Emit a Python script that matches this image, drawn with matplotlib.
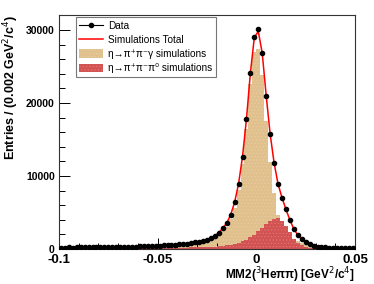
import matplotlib
matplotlib.use('Agg')
import matplotlib.pyplot as plt
import numpy as np
from matplotlib.patches import Patch
from matplotlib.lines import Line2D

plt.rcParams['font.family'] = ['Liberation Sans', 'DejaVu Sans']
plt.rcParams['hatch.linewidth'] = 0.4

# Histogram binning: 75 bins of 0.002 from -0.1 to 0.05
bin_lo = -0.1
bin_hi = 0.05
n_bins = 75

# Data (entries per bin)
data_counts = [
    200, 200, 210, 205, 220, 215, 230, 225, 240, 235,
    250, 260, 255, 270, 280, 290, 300, 310, 320, 335,
    350, 365, 380, 400, 420, 450, 480, 510, 550, 600,
    640, 690, 750, 820, 900, 1000, 1120, 1280, 1500, 1800,
    2250, 2850, 3550, 4700, 6400, 8950, 12650, 17800, 24150, 29000,
    30100, 26800, 21000, 15750, 11800, 8900, 7030, 5440, 3970, 2740,
    1920, 1330, 960, 650, 460, 340, 260, 210, 180, 160,
    140, 130, 120, 110, 100,
]

# eta -> pi+ pi- gamma simulation
gamma_counts = [
    160, 160, 165, 160, 170, 165, 175, 170, 180, 175,
    185, 195, 190, 200, 205, 210, 215, 225, 230, 240,
    250, 260, 270, 285, 300, 320, 345, 365, 395, 430,
    465, 505, 550, 600, 675, 760, 860, 1000, 1190, 1460,
    1870, 2420, 3050, 4100, 5680, 8080, 11600, 16500, 22550, 27050,
    27400, 23900, 17550, 11850, 7650, 4700, 3180, 2240, 1670, 1340,
    1070, 830, 660, 450, 320, 235, 175, 140, 120, 105,
    92, 85, 80, 75, 70,
]

# eta -> pi+ pi- pi0 simulation
pi0_counts = [
    40, 42, 44, 46, 48, 50, 52, 54, 56, 58,
    60, 63, 66, 69, 72, 76, 80, 84, 88, 92,
    97, 102, 108, 114, 120, 127, 135, 143, 152, 162,
    172, 184, 196, 210, 225, 242, 262, 285, 310, 340,
    380, 430, 500, 600, 720, 870, 1050, 1300, 1600, 1950,
    2400, 2900, 3450, 3900, 4150, 4200, 3850, 3200, 2300, 1400,
    850, 500, 300, 200, 140, 105, 85, 70, 60, 52,
    46, 42, 38, 34, 30,
]

x_ticks = [-0.1, -0.05, 0, 0.05]
x_tick_labels = ['-0.1', '-0.05', '0', '0.05']
y_ticks = [0, 10000, 20000, 30000]

edges = np.linspace(bin_lo, bin_hi, n_bins + 1)
centers = 0.5 * (edges[:-1] + edges[1:])
data_counts = np.array(data_counts)
gamma_counts = np.array(gamma_counts)
pi0_counts = np.array(pi0_counts)
total_counts = gamma_counts + pi0_counts

tan_color = '#e0c08c'
tan_dots = '#eacfa4'
red_color = '#d35353'
red_dots = '#df7878'

fig = plt.figure(figsize=(3.74, 2.84), dpi=100)
ax = fig.add_axes([59 / 374, 1 - 249 / 284, (355 - 59) / 374, (249 - 15) / 284])

ax.stairs(gamma_counts, edges, fill=True, facecolor=tan_color,
          edgecolor=tan_dots, hatch='.....', lw=0, zorder=1)
ax.stairs(pi0_counts, edges, fill=True, facecolor=red_color,
          edgecolor=red_dots, hatch='.....', lw=0, zorder=2)
ax.plot(centers, total_counts, '-', color='red', lw=1.1, zorder=3)
ax.errorbar(centers, data_counts, xerr=0.0005, fmt='o', color='black',
            ms=3.0, elinewidth=0.8, capsize=0, zorder=4)

ax.set_xlim(bin_lo, bin_hi)
ax.set_ylim(0, 32050)

ax.set_xticks(x_ticks)
ax.set_xticklabels(x_tick_labels, fontsize=9.5, fontweight='bold')
ax.set_xticks(np.arange(-0.1, 0.0501, 0.01), minor=True)
ax.set_yticks(y_ticks)
ax.set_yticklabels([str(v) for v in y_ticks], fontsize=7.5, fontweight='bold')
ax.set_yticks(np.arange(0, 32001, 2000), minor=True)
ax.tick_params(axis='both', which='both', direction='in', top=False, right=False)
ax.tick_params(axis='y', which='major', length=8, width=0.7, pad=3)
ax.tick_params(axis='y', which='minor', length=4, width=0.7)
ax.tick_params(axis='x', which='major', length=8, width=0.7, pad=3.5)
ax.tick_params(axis='x', which='minor', length=4, width=0.7)
for s in ax.spines.values():
    s.set_linewidth(0.8)
    s.set_color('#333333')

ax.set_xlabel('MM2($^{3}$Heππ) [GeV$^{2}$/c$^{4}$]', fontsize=8.5,
              fontweight='bold', loc='right', labelpad=0)
ax.set_ylabel('Entries / (0.002 GeV$^{2}$/c$^{4}$)', fontsize=9,
              fontweight='bold', loc='top', labelpad=4)

handles = [
    Line2D([], [], color='black', marker='o', ms=3.0, lw=0.8),
    Line2D([], [], color='red', lw=1.1),
    Patch(facecolor=tan_color, edgecolor=tan_dots, hatch='.....', lw=0),
    Patch(facecolor=red_color, edgecolor=red_dots, hatch='.....', lw=0),
]
labels = ['Data', 'Simulations Total', 'η→π⁺π⁻γ simulations',
          'η→π⁺π⁻π⁰ simulations']
leg = ax.legend(handles, labels, loc='upper left', bbox_to_anchor=(0.057, 0.99),
                borderaxespad=0, fontsize=7.2, frameon=True, fancybox=False,
                numpoints=1, handlelength=2.4, handleheight=1.0,
                handletextpad=0.5, borderpad=0.35, labelspacing=0.42)
leg.get_frame().set_edgecolor('#555555')
leg.get_frame().set_linewidth(0.8)

fig.savefig('out.png', dpi=100)
plt.close()
